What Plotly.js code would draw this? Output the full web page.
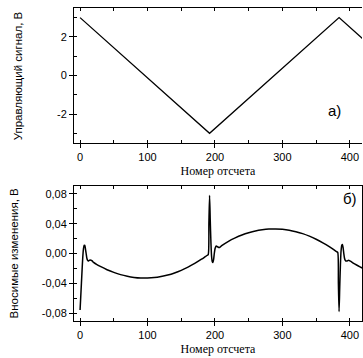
<!DOCTYPE html>
<html><head><meta charset="utf-8">
<script src="https://cdn.plot.ly/plotly-3.0.1.min.js"></script>
<style>html,body{margin:0;padding:0;background:#fff}#c{width:363px;height:358px}</style>
</head><body><div id="c"></div>
<script>
// Top panel: control signal (triangle)
const xTop = [0, 192, 384, 430];
const yTop = [3, -3, 3, 1.56];

// Bottom panel: introduced changes
const xBot = [0,1,2,3,4,5,6,7,8,9,10,11,12,14,16,18,20,25,30,40,50,60,70,80,90,100,110,120,130,140,150,160,170,180,185,188,190,191,192,193,194,195,196,197,198,199,200,201,202,204,206,208,210,220,230,240,250,260,270,280,290,300,310,320,330,340,350,360,370,375,380,382,383,384,385,386,387,388,389,390,391,392,393,394,396,398,400,402,405,410,415,420];
const yBot = [-0.076,-0.058,-0.040,-0.022,-0.005,0.006,0.011,0.011,0.006,0.000,-0.006,-0.009,-0.010,-0.009,-0.009,-0.010,-0.012,-0.015,-0.0174,-0.0218,-0.0254,-0.0284,-0.0306,-0.0321,-0.0329,-0.0329,-0.0323,-0.0309,-0.0289,-0.0261,-0.0226,-0.0183,-0.0134,-0.0077,-0.0046,-0.0027,-0.0014,0.040,0.078,0.045,0.015,-0.004,-0.011,-0.012,-0.008,0.000,0.006,0.009,0.010,0.009,0.008,0.009,0.0105,0.0164,0.0210,0.0248,0.0278,0.0302,0.0318,0.0328,0.0330,0.0325,0.0313,0.0293,0.0267,0.0233,0.0192,0.0144,0.0089,0.0059,0.0027,0.0014,-0.040,-0.078,-0.045,-0.015,0.004,0.011,0.012,0.008,0.000,-0.006,-0.009,-0.010,-0.010,-0.009,-0.010,-0.011,-0.0129,-0.0155,-0.0179,-0.0201];

const xTickVals = [0,100,200,300,400];
const xTickText = ['0','100','200','300','400'];
const yTopVals = [-2,0,2];
const yTopText = ['-2','0','2'];
const yBotVals = [-0.08,-0.04,0,0.04,0.08];
const yBotText = ['-0,08','-0,04','0,00','0,04','0,08'];

const tickFont = {family:'Liberation Sans, Arial, sans-serif', size:11, color:'#000'};
const xTitleFont = {family:'Liberation Serif, Times New Roman, serif', size:12, color:'#000'};
const yTitleFont = {family:'Liberation Sans Narrow, Arial Narrow, Liberation Sans, sans-serif', size:11.5, color:'#000'};

const xRange = [-9, 418];
function xAx(anchor){
  return {range:xRange, anchor:anchor, showgrid:false, zeroline:false, showline:true, linecolor:'#000', linewidth:1,
    mirror:true, ticks:'outside', ticklen:4, tickwidth:1, tickcolor:'#000',
    tickvals:xTickVals, ticktext:xTickText, tickfont:tickFont,
    minor:{ticks:'inside', dtick:50, tick0:0, ticklen:3, tickcolor:'#000', showgrid:false},
    title:{text:'Номер отсчета', font:xTitleFont, standoff:4}};
}
function xTopTicks(anchor, over){
  return {range:xRange, anchor:anchor, overlaying:over, side:'top', showgrid:false, zeroline:false, showline:false,
    ticks:'inside', ticklen:3, tickwidth:1, tickcolor:'#000', dtick:50, tick0:0, showticklabels:false};
}
function yAx(anchor, domain, range, vals, text, dminor, mirror){
  return {domain:domain, range:range, anchor:anchor, showgrid:false, zeroline:false, showline:true, linecolor:'#000', linewidth:1,
    mirror:mirror, ticks:'outside', ticklen:4, tickwidth:1, tickcolor:'#000',
    tickvals:vals, ticktext:text, tickfont:tickFont,
    minor:{ticks:'inside', dtick:dminor, tick0:0, ticklen:3, tickcolor:'#000', showgrid:false}};
}

const traces = [
  {x:xTop, y:yTop, xaxis:'x', yaxis:'y', mode:'lines', line:{color:'#000', width:1.3}, hoverinfo:'skip'},
  {x:xBot, y:yBot, xaxis:'x2', yaxis:'y2', mode:'lines', line:{color:'#000', width:1.5, shape:'spline', smoothing:0.6}, hoverinfo:'skip'},
  {x:[0], y:[null], xaxis:'x3', yaxis:'y', mode:'lines', hoverinfo:'skip'},
  {x:[0], y:[null], xaxis:'x4', yaxis:'y2', mode:'lines', hoverinfo:'skip'}
];

const layout = {
  width:363, height:358,
  margin:{l:74, r:1, t:8, b:37},
  paper_bgcolor:'#fff', plot_bgcolor:'#fff', showlegend:false,
  xaxis: xAx('y'),
  yaxis: yAx('x', [0.5687,1], [-3.5,3.5], yTopVals, yTopText, 1, false),
  xaxis2: xAx('y2'),
  yaxis2: yAx('x2', [0,0.4313], [-0.0907,0.0907], yBotVals, yBotText, 0.02, true),
  xaxis3: xTopTicks('y', 'x'),
  xaxis4: xTopTicks('y2', 'x2'),
  annotations:[
    {xref:'paper', yref:'paper', x:-0.195, y:0.7843, text:'Управляющий сигнал, В', textangle:-90, showarrow:false, font:yTitleFont, xanchor:'center', yanchor:'middle'},
    {xref:'paper', yref:'paper', x:-0.205, y:0.2157, text:'Вносимые изменения, В', textangle:-90, showarrow:false, font:yTitleFont, xanchor:'center', yanchor:'middle'},
    {xref:'x', yref:'y', x:377, y:-1.8, text:'а)', showarrow:false, font:{family:'Liberation Sans, Arial, sans-serif', size:15, color:'#000'}},
    {xref:'x2', yref:'y2', x:400, y:0.074, text:'б)', showarrow:false, font:{family:'Liberation Sans, Arial, sans-serif', size:15, color:'#000'}}
  ]
};
Plotly.newPlot('c', traces, layout, {staticPlot:true, displayModeBar:false});
</script></body></html>
